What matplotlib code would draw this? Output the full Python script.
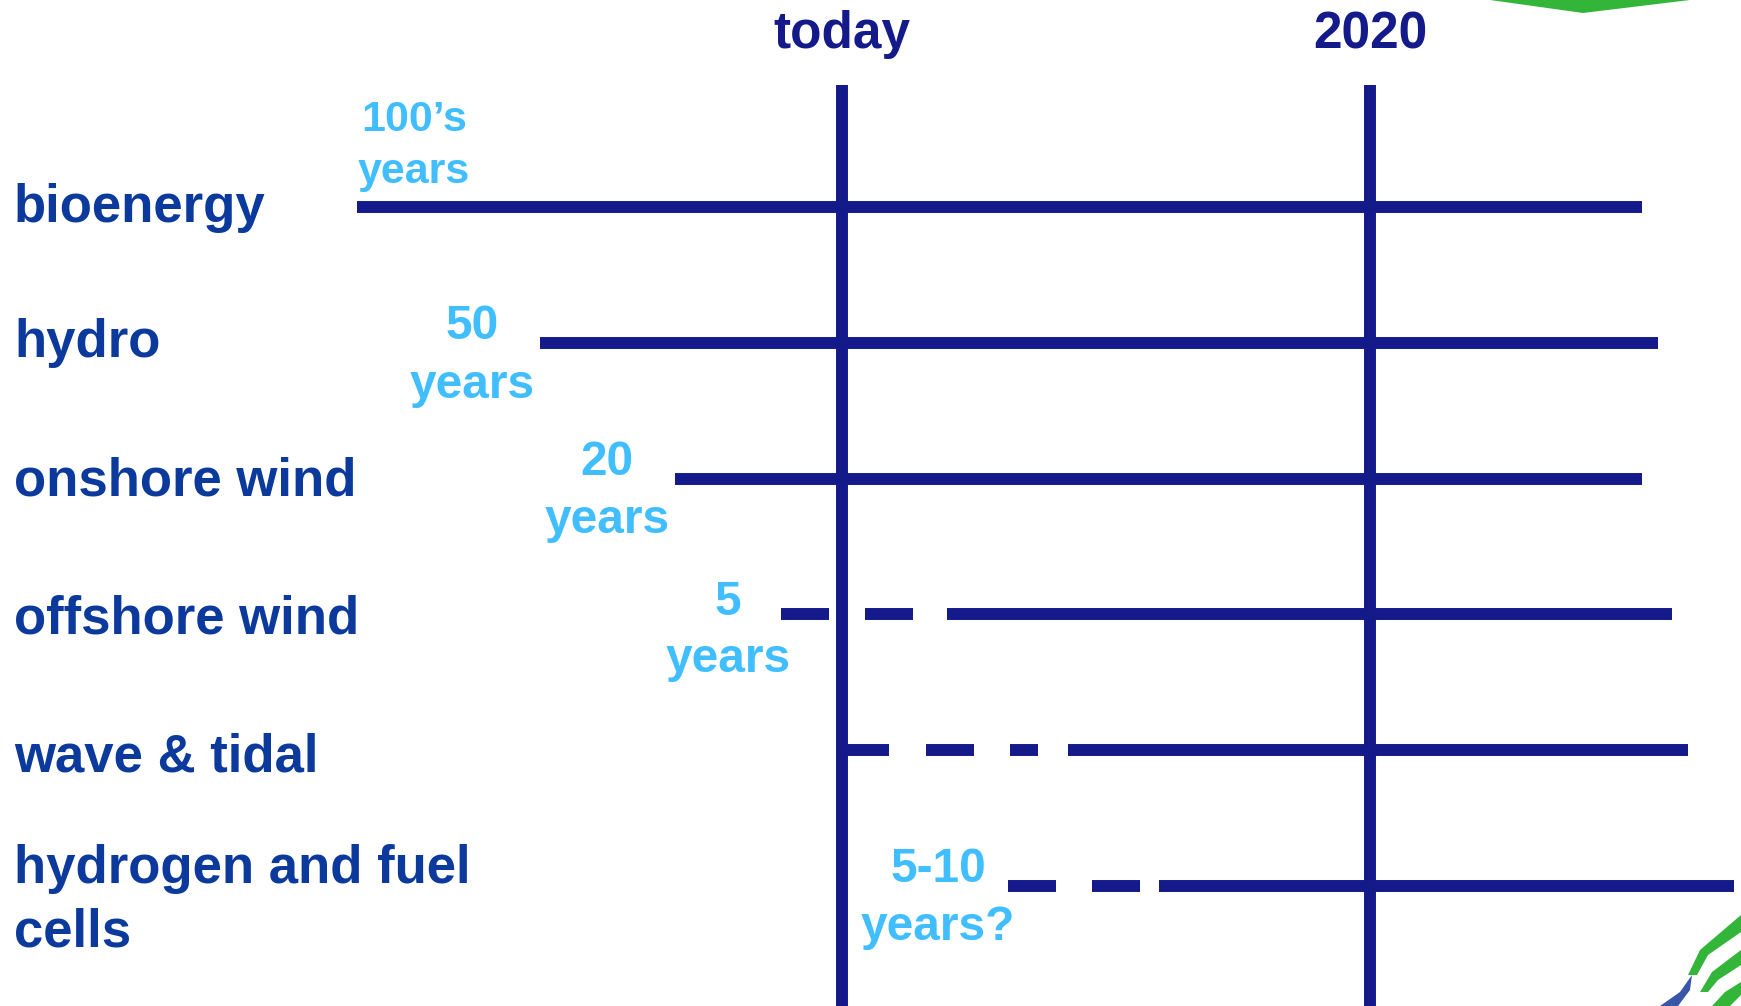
import matplotlib.pyplot as plt
from matplotlib.patches import Polygon

# rows of the timeline, top to bottom
techs = ["bioenergy", "hydro", "onshore wind", "offshore wind",
         "wave & tidal", "hydrogen and fuel\ncells"]
lead_times = ["100\u2019s\nyears", "50\nyears", "20\nyears", "5\nyears", "", "5-10\nyears?"]

# bar segments along the timeline (x in timeline units, 0..1741 across the slide)
segments = [
    [(357, 1642)],
    [(540, 1658)],
    [(675, 1642)],
    [(781, 829), (865, 913), (947, 1672)],
    [(842, 889), (926, 974), (1010, 1038), (1068, 1688)],
    [(1008, 1056), (1092, 1140), (1159, 1734)],
]
milestones = ["today", "2020"]
milestone_x = [842, 1370]

NAVY = "#141a8a"
LABEL = "#0b3a9c"
LIGHT = "#40beff"
FONT = "Liberation Sans"

fig = plt.figure(figsize=(17.41, 10.06), dpi=100)
ax = fig.add_axes([0, 0, 1, 1])
ax.set_xlim(0, 1741)
# row index -> vertical position (row spacing ~136 px, first row at 207 px)
row_px = 135.8
ax.set_ylim((1006 - 207) / row_px, -207 / row_px)
ax.axis("off")

def py(p):
    return (p - 207) / row_px

for x in milestone_x:
    ax.vlines(x, py(85), py(1006), color=NAVY, lw=8.6)

for i, segs in enumerate(segments):
    for a, b in segs:
        ax.plot([a, b], [i, i], color=NAVY, lw=8.6, solid_capstyle="butt")

for name, x in zip(milestones, milestone_x):
    ax.text(x, py(35), name, ha="center", va="center", fontsize=37,
            fontweight="bold", color=NAVY, family=FONT)

# technology names, baselines in slide pixels
label_base = [[222], [357], [496], [634], [772], [883, 947]]
for name, bases in zip(techs, label_base):
    for line, b in zip(name.split("\n"), bases):
        ax.text(14, py(b), line, ha="left", va="baseline", fontsize=38,
                fontweight="bold", color=LABEL, family=FONT)

# lead time annotations
lead_pos = [(414, 120, 172, 31), (472, 327, 386, 34.5), (607, 463, 521, 34.5),
            (728, 603, 660, 34.5), None, (938, 870, 928, 34.5)]
for txt, pos in zip(lead_times, lead_pos):
    if not txt:
        continue
    top, bottom = txt.split("\n")
    x, y1, y2, fs = pos
    ax.text(x, py(y1), top, ha="center", va="center", fontsize=fs,
            fontweight="bold", color=LIGHT, family=FONT)
    ax.text(x, py(y2), bottom, ha="center", va="center", fontsize=fs,
            fontweight="bold", color=LIGHT, family=FONT)

# slide decorations: green arrow tip at top, logo corner at bottom right
GREEN = "#33b53a"
ax.add_patch(Polygon([(1490, py(0)), (1690, py(0)), (1583, py(13))],
                     closed=True, color=GREEN, lw=0))
logo = [
    [(1688, 975), (1700, 950), (1741, 915), (1741, 932), (1708, 955), (1697, 975)],
    [(1700, 992), (1712, 972), (1741, 950), (1741, 965), (1718, 980), (1708, 992)],
    [(1712, 1006), (1725, 992), (1741, 982), (1741, 995), (1730, 1006)],
]
for poly in logo:
    ax.add_patch(Polygon([(x, py(y)) for x, y in poly], closed=True, color=GREEN, lw=0))
ax.add_patch(Polygon([(x, py(y)) for x, y in
                      [(1660, 1006), (1680, 992), (1692, 975), (1690, 990), (1678, 1006)]],
                     closed=True, color="#3a56a8", lw=0))

fig.savefig("out.png", dpi=100)
